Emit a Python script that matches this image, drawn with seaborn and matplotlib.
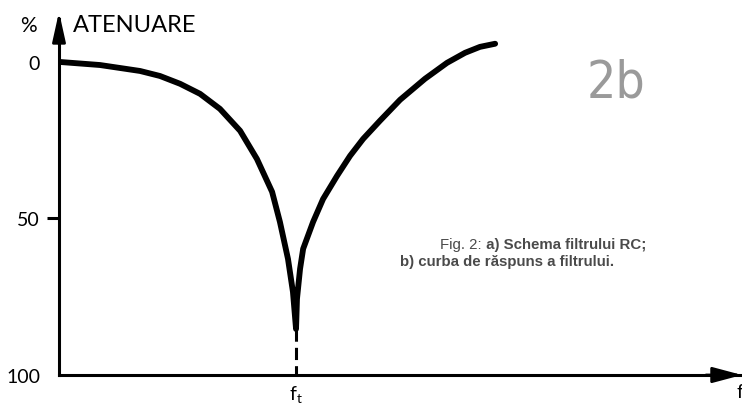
import matplotlib
matplotlib.use("Agg")
import matplotlib.pyplot as plt
import pandas as pd
import seaborn as sns

# ---- data ----
freq = [0.000, 0.173, 0.342, 0.426, 0.511, 0.595, 0.679, 0.764, 0.835, 0.899, 0.932, 0.966,
        0.987, 1.000,
        1.004, 1.017, 1.030, 1.072, 1.114, 1.173, 1.228, 1.283, 1.354, 1.439, 1.544, 1.637,
        1.713, 1.776, 1.840]
atten = [0.0, 1.0, 2.9, 4.5, 7.0, 10.2, 15.0, 22.0, 31.0, 41.5, 51.1, 62.9,
         73.5, 85.3,
         75.7, 66.1, 59.7, 51.1, 43.8, 36.4, 30.0, 24.6, 18.8, 12.1, 5.4, 0.3,
         -2.9, -4.8, -5.8]
y_ticks = [0, 50, 100]
y_tick_labels = ["0", "50", "100"]
f_t = 1.0
f_end = 2.873
x_ticks = [f_t, f_end]
x_tick_labels = [r"$\mathregular{f_t}$", "f"]
y_title = "ATENUARE"
y_unit = "%"
panel_label = "2b"
caption1a = "Fig. 2:"
caption1b = " a) Schema filtrului RC;"
caption2 = "b) curba de răspuns a filtrului."

df = pd.DataFrame({"f": freq, "att": atten})

sns.set_theme(style="white")
plt.rcParams["font.family"] = ["Lato", "DejaVu Sans"]
plt.rcParams["text.color"] = "black"

W, H = 742, 406
fig = plt.figure(figsize=(W / 100, H / 100), dpi=100)
ax_l, ax_r, ax_t, ax_b = 59, 740, 20, 376
ax = fig.add_axes([ax_l / W, 1 - ax_b / H, (ax_r - ax_l) / W, (ax_b - ax_t) / H])

sns.lineplot(data=df, x="f", y="att", ax=ax, color="black", lw=4.2,
             sort=False, estimator=None, solid_capstyle="round", solid_joinstyle="round")

# dashed drop line from the notch to the f axis
att_min = max(atten)
ax.plot([f_t, f_t], [att_min, 100], color="black", lw=2.2, ls=(0, (4, 2)))

ax.set_xlim(0, f_end)
ax.set_ylim(100, -13.7)
ax.set_xlabel("")
ax.set_ylabel("")

for s in ["top", "right"]:
    ax.spines[s].set_visible(False)
for s in ["left", "bottom"]:
    ax.spines[s].set_linewidth(2.2)
    ax.spines[s].set_color("black")

ax.set_yticks(y_ticks)
ax.set_yticklabels(y_tick_labels, fontsize=14, color="black")
ax.tick_params(axis="y", length=8.6, width=2.2, pad=5, colors="black", left=True)
ticks = ax.yaxis.get_major_ticks()
ticks[0].tick1line.set_visible(False)
ticks[2].tick1line.set_visible(False)

ax.set_xticks(x_ticks)
ax.set_xticklabels(x_tick_labels, fontsize=14, color="black")
ax.tick_params(axis="x", length=0, pad=6, colors="black")

# axis arrowheads
ax.annotate("", xy=(0, 1.02), xytext=(0, 0.93), xycoords="axes fraction",
            arrowprops=dict(arrowstyle="-|>,head_length=0.9,head_width=0.2",
                            mutation_scale=20, color="black", lw=2.0, shrinkA=0, shrinkB=0),
            annotation_clip=False)
ax.annotate("", xy=(1.003, 0), xytext=(0.95, 0), xycoords="axes fraction",
            arrowprops=dict(arrowstyle="-|>,head_length=0.9,head_width=0.24",
                            mutation_scale=20, color="black", lw=2.0, shrinkA=0, shrinkB=0),
            annotation_clip=False)

# axis title
fig.text(20 / W, 1 - 32 / H, y_unit, fontsize=15, va="baseline", ha="left")
fig.text(73 / W, 1 - 32 / H, y_title, fontsize=17, va="baseline", ha="left")

# panel label
fig.text(587 / W, 1 - 98 / H, panel_label, fontsize=37, color="#9a9a9a",
         family=["Liberation Sans Narrow", "DejaVu Sans"], fontstretch="condensed",
         va="baseline", ha="left")

# caption
t1 = fig.text(440 / W, 1 - 249 / H, caption1a, fontsize=10.8, color="#4a4a4a",
              family=["Liberation Sans", "DejaVu Sans"], va="baseline", ha="left")
ax.annotate(caption1b, xy=(1, 0), xycoords=t1, fontsize=10.8, color="#4a4a4a",
            fontweight="bold", family=["Liberation Sans", "DejaVu Sans"],
            va="bottom", ha="left", annotation_clip=False)
fig.text(400 / W, 1 - 266 / H, caption2, fontsize=10.8, color="#4a4a4a", fontweight="bold",
         family=["Liberation Sans", "DejaVu Sans"], va="baseline", ha="left")

fig.savefig("out.png", dpi=100)
